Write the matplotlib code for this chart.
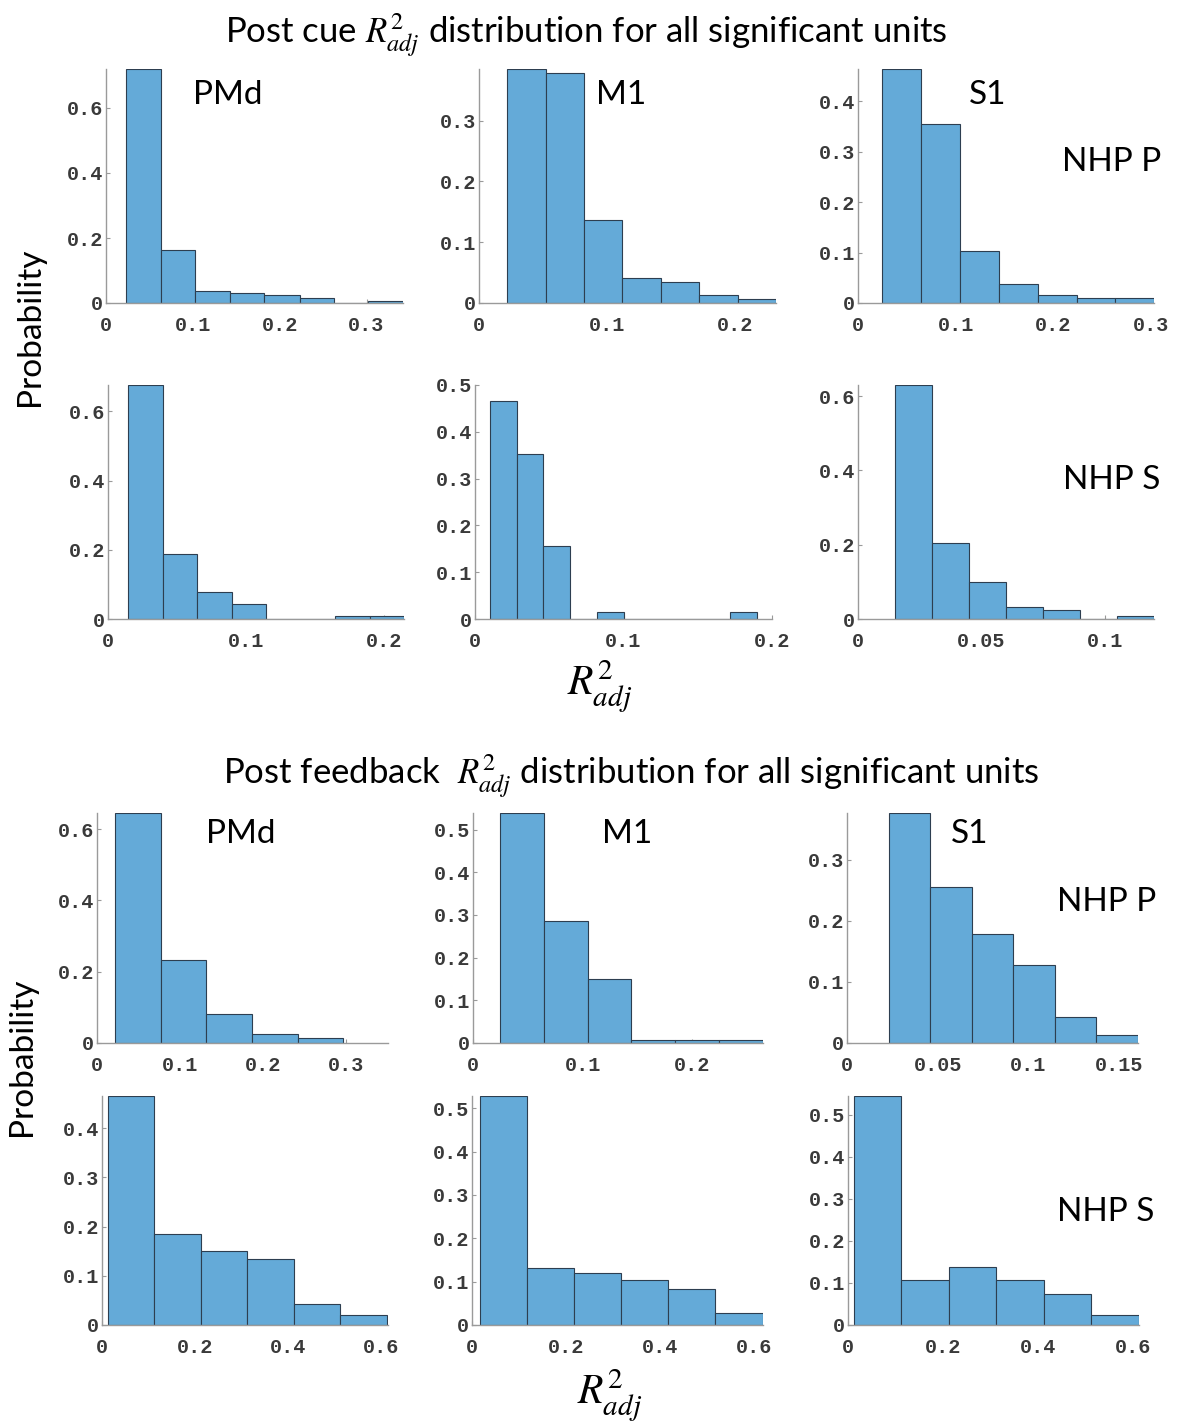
import numpy as np
import matplotlib
matplotlib.use("Agg")
import matplotlib.pyplot as plt
from matplotlib.ticker import FuncFormatter

# ---------------- data ----------------
# Post cue, NHP P
cue_P_PMd_edges = [0.023, 0.063, 0.1025, 0.143, 0.1825, 0.223, 0.262, 0.302, 0.342]
cue_P_PMd_prob = [0.72, 0.162, 0.036, 0.031, 0.025, 0.015, 0.0, 0.005]
cue_P_M1_edges = [0.022, 0.052, 0.082, 0.112, 0.142, 0.172, 0.202, 0.232]
cue_P_M1_prob = [0.385, 0.378, 0.137, 0.0405, 0.034, 0.013, 0.0066]
cue_P_S1_edges = [0.0245, 0.064, 0.104, 0.144, 0.184, 0.224, 0.2635, 0.303]
cue_P_S1_prob = [0.464, 0.355, 0.103, 0.0377, 0.0152, 0.0106, 0.0106]
# Post cue, NHP S
cue_S_PMd_edges = [0.0145, 0.0395, 0.0645, 0.0895, 0.1145, 0.1395, 0.1645, 0.1895, 0.2145]
cue_S_PMd_prob = [0.676, 0.188, 0.077, 0.042, 0.0, 0.0, 0.008, 0.008]
cue_S_M1_edges = [0.010, 0.028, 0.046, 0.064, 0.082, 0.100, 0.118, 0.136, 0.154, 0.172, 0.190]
cue_S_M1_prob = [0.465, 0.353, 0.155, 0.0, 0.014, 0.0, 0.0, 0.0, 0.0, 0.014]
cue_S_S1_edges = [0.015, 0.030, 0.045, 0.060, 0.075, 0.090, 0.105, 0.120]
cue_S_S1_prob = [0.63, 0.204, 0.099, 0.032, 0.025, 0.0, 0.007]
# Post feedback, NHP P
fb_P_PMd_edges = [0.022, 0.0768, 0.1316, 0.1864, 0.2412, 0.296]
fb_P_PMd_prob = [0.645, 0.232, 0.081, 0.026, 0.013]
fb_P_M1_edges = [0.0244, 0.0644, 0.1044, 0.1444, 0.1844, 0.2244, 0.2644]
fb_P_M1_prob = [0.539, 0.287, 0.150, 0.006, 0.006, 0.006]
fb_P_S1_edges = [0.0231, 0.0460, 0.0689, 0.0918, 0.1147, 0.1376, 0.1605]
fb_P_S1_prob = [0.377, 0.256, 0.178, 0.128, 0.0428, 0.0137]
# Post feedback, NHP S
fb_S_PMd_edges = [0.012, 0.112, 0.212, 0.312, 0.412, 0.512, 0.612]
fb_S_PMd_prob = [0.465, 0.185, 0.150, 0.135, 0.0426, 0.0203]
fb_S_M1_edges = [0.017, 0.117, 0.217, 0.317, 0.417, 0.517, 0.617]
fb_S_M1_prob = [0.528, 0.131, 0.121, 0.103, 0.083, 0.027]
fb_S_S1_edges = [0.012, 0.112, 0.212, 0.312, 0.412, 0.512, 0.612]
fb_S_S1_prob = [0.544, 0.107, 0.138, 0.107, 0.074, 0.024]

areas = ["PMd", "M1", "S1"]
monkeys = ["NHP P", "NHP S"]
title_cue = r"Post cue $R^2_{adj}$ distribution for all significant units"
title_fb = r"Post feedback  $R^2_{adj}$ distribution for all significant units"
ylabel_text = "Probability"
xlabel_text = r"$R^2_{adj}$"

# ---------------- layout ----------------
W, H = 1178, 1421
plt.rcParams["mathtext.fontset"] = "stix"
fig = plt.figure(figsize=(W / 100, H / 100), dpi=100)
fig.patch.set_facecolor("white")

TEXT_FONT = ["Lato", "DejaVu Sans"]
TICK_FONT = ["Liberation Mono", "DejaVu Sans Mono"]
FACE = "#64aad8"
EDGE = "#2d3e50"
SPINE = "#9a9a9a"


def rect(l, t, r, b):
    return [l / W, 1 - b / H, (r - l) / W, (b - t) / H]


def fmt(v, pos):
    if abs(v) < 1e-12:
        return "0"
    return ("%.2f" % v).rstrip("0")


panels = [
    # edges, prob, rect(px), xlim, ylim_top, xticks, yticks
    (cue_P_PMd_edges, cue_P_PMd_prob, (106, 69, 403, 303), 0.342, None, [0, .1, .2, .3], [0, .2, .4, .6]),
    (cue_P_M1_edges, cue_P_M1_prob, (479, 69, 776, 303), 0.232, None, [0, .1, .2], [0, .1, .2, .3]),
    (cue_P_S1_edges, cue_P_S1_prob, (858, 69, 1154, 303), 0.303, None, [0, .1, .2, .3], [0, .1, .2, .3, .4]),
    (cue_S_PMd_edges, cue_S_PMd_prob, (108, 385, 404, 619), 0.2145, None, [0, .1, .2], [0, .2, .4, .6]),
    (cue_S_M1_edges, cue_S_M1_prob, (475, 385, 772, 619), 0.2, 0.5, [0, .1, .2], [0, .1, .2, .3, .4, .5]),
    (cue_S_S1_edges, cue_S_S1_prob, (858, 385, 1154, 619), 0.12, None, [0, .05, .1], [0, .2, .4, .6]),
    (fb_P_PMd_edges, fb_P_PMd_prob, (97, 813, 388, 1043), 0.35, None, [0, .1, .2, .3], [0, .2, .4, .6]),
    (fb_P_M1_edges, fb_P_M1_prob, (473, 813, 763, 1043), 0.2644, None, [0, .1, .2], [0, .1, .2, .3, .4, .5]),
    (fb_P_S1_edges, fb_P_S1_prob, (847, 813, 1138, 1043), 0.1605, None, [0, .05, .1, .15], [0, .1, .2, .3]),
    (fb_S_PMd_edges, fb_S_PMd_prob, (102, 1096, 388, 1325), 0.615, None, [0, .2, .4, .6], [0, .1, .2, .3, .4]),
    (fb_S_M1_edges, fb_S_M1_prob, (472, 1096, 763, 1325), 0.618, None, [0, .2, .4, .6], [0, .1, .2, .3, .4, .5]),
    (fb_S_S1_edges, fb_S_S1_prob, (848, 1096, 1139, 1325), 0.612, None, [0, .2, .4, .6], [0, .1, .2, .3, .4, .5]),
]

for edges, prob, r, xmax, ytop, xt, yt in panels:
    ax = fig.add_axes(rect(*r))
    e = np.asarray(edges)
    p = np.asarray(prob)
    ax.bar(e[:-1], p, width=np.diff(e), align="edge", color=FACE,
           edgecolor=EDGE, linewidth=0.8, zorder=2)
    ax.set_xlim(0, xmax)
    ax.set_ylim(0, ytop if ytop is not None else p.max())
    ax.set_xticks(xt)
    ax.set_yticks(yt)
    ax.xaxis.set_major_formatter(FuncFormatter(fmt))
    ax.yaxis.set_major_formatter(FuncFormatter(fmt))
    for s in ["top", "right"]:
        ax.spines[s].set_visible(False)
    for s in ["left", "bottom"]:
        ax.spines[s].set_color(SPINE)
        ax.spines[s].set_linewidth(1.0)
        ax.spines[s].set_zorder(3)
    ax.tick_params(direction="in", length=3, width=0.8, color=SPINE,
                   labelsize=14.5, labelcolor="#3a3a3a")
    ax.tick_params(axis="x", pad=9.5)
    ax.tick_params(axis="y", pad=2)
    for lab in ax.get_xticklabels() + ax.get_yticklabels():
        lab.set_family(TICK_FONT)
        lab.set_weight("bold")


def ftext(x, y, s, size, **kw):
    fig.text(x / W, 1 - y / H, s, fontsize=size, family=TEXT_FONT,
             ha=kw.pop("ha", "center"), va=kw.pop("va", "center"), **kw)


# titles
ftext(586, 42, title_cue, 25, va="baseline")
ftext(631, 783, title_fb, 25, va="baseline")

# area labels
for x, s in zip([228, 621, 988], areas):
    ftext(x, 95, s, 24)
for x, s in zip([241, 627, 970], areas):
    ftext(x, 834, s, 24)

# monkey labels
ftext(1112, 162, monkeys[0], 24)
ftext(1112, 480, monkeys[1], 24)
ftext(1107, 902, monkeys[0], 24)
ftext(1106, 1212, monkeys[1], 24)

# axis labels
ftext(30, 327, ylabel_text, 24, rotation=90)
ftext(22, 1057, ylabel_text, 24, rotation=90)
ftext(600, 686, xlabel_text, 30)
ftext(610, 1395, xlabel_text, 30)

fig.savefig("out.png", dpi=100, facecolor="white")
